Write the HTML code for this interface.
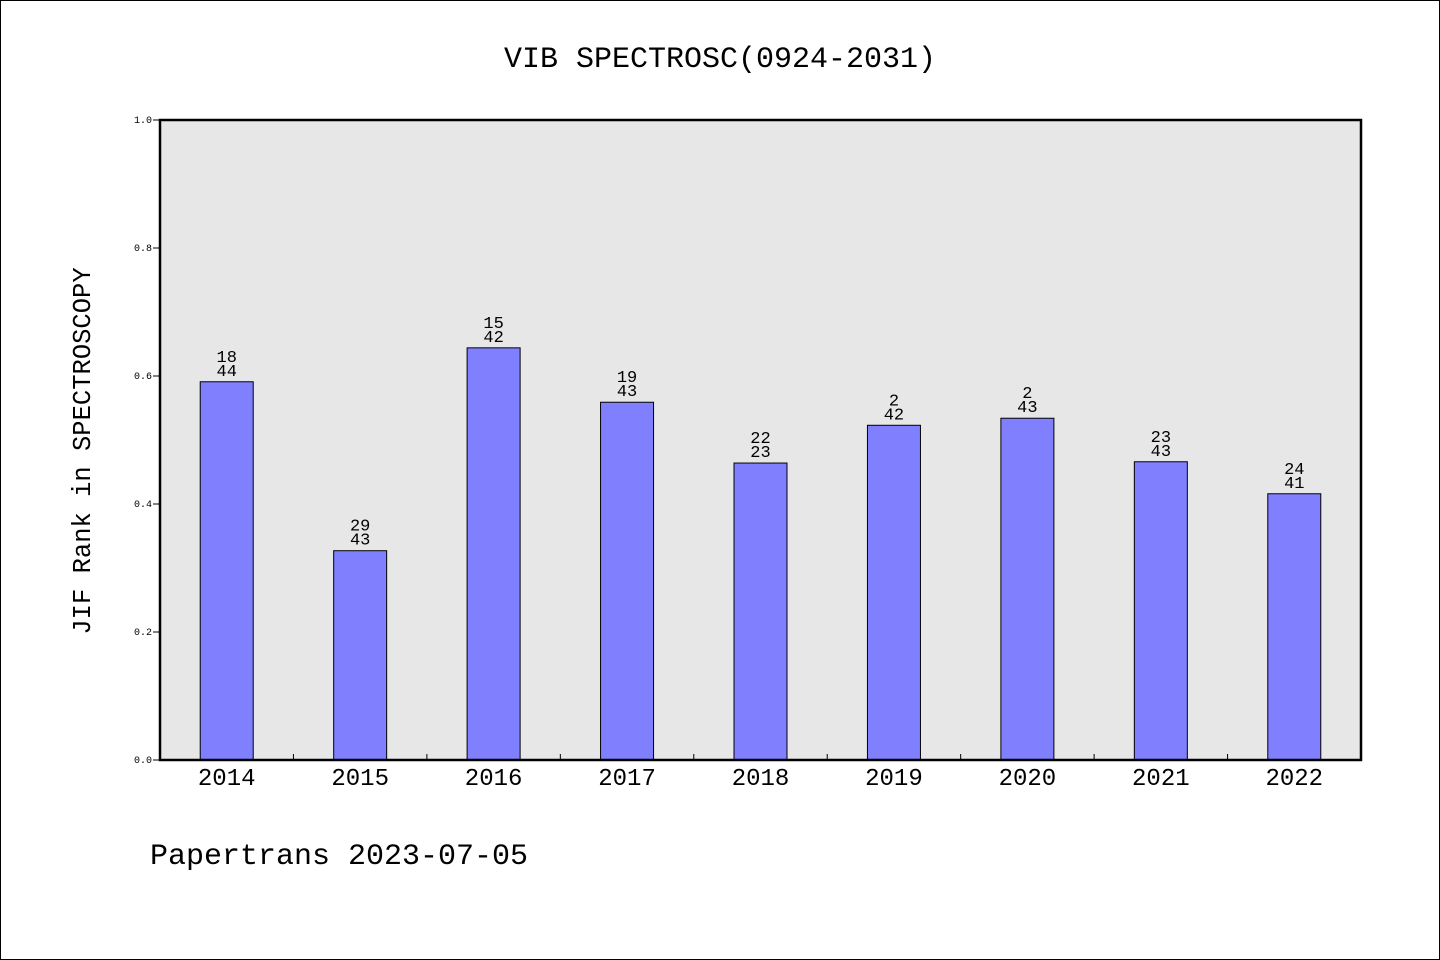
<!DOCTYPE html>
<html><head><meta charset="utf-8"><style>
html,body{margin:0;padding:0;background:#fff}
svg{display:block}
text{font-family:"Liberation Mono",monospace;fill:#000}
</style></head><body>
<svg width="1440" height="960" xmlns="http://www.w3.org/2000/svg">
<rect x="0.5" y="0.5" width="1439" height="959" fill="#fff" stroke="#000"/>
<text x="720" y="67" font-size="30" text-anchor="middle">VIB SPECTROSC(0924-2031)</text>
<rect x="160" y="120" width="1201" height="640" fill="#e7e7e7"/>
<g id="bars"></g>
<rect x="160" y="120" width="1201" height="640" fill="none" stroke="#000" stroke-width="2.5"/>
<g id="axes"></g>
<text transform="translate(90,451) rotate(-90)" font-size="25.5" text-anchor="middle">JIF Rank in SPECTROSCOPY</text>
<text x="150" y="864" font-size="30">Papertrans 2023-07-05</text>
</svg>
<script>
const categories=["2014","2015","2016","2017","2018","2019","2020","2021","2022"];
const values=[0.591,0.327,0.644,0.559,0.464,0.523,0.534,0.466,0.416];
const ranks=["18","29","15","19","22","2","2","23","24"];
const totals=["44","43","42","43","23","42","43","43","41"];
const yTicks=[0,0.2,0.4,0.6,0.8,1.0];
const NS="http://www.w3.org/2000/svg";
const X0=160,W=1201,Y0=760,H=640;
const step=W/categories.length;
const xc=i=>X0+step*(i+0.5);
const y=v=>Y0-v*H;
const bars=document.getElementById('bars'),axes=document.getElementById('axes');
function mk(tag,attrs,parent){const e=document.createElementNS(NS,tag);for(const k in attrs)e.setAttribute(k,attrs[k]);parent.appendChild(e);return e;}
categories.forEach((c,i)=>{
  const r=mk('rect',{x:xc(i)-26.5,y:y(values[i]),width:53,height:Y0-y(values[i]),fill:'#8080ff',stroke:'#000','stroke-width':1},bars);
  
  
  const t1=mk('text',{x:xc(i),y:y(values[i])-20,'font-size':17,'text-anchor':'middle'},bars);
  t1.textContent=ranks[i];
  
  
  const t2=mk('text',{x:xc(i),y:y(values[i])-6,'font-size':17,'text-anchor':'middle'},bars);
  t2.textContent=totals[i];
  
  
  const xl=mk('text',{x:xc(i),y:785,'font-size':24,'text-anchor':'middle'},axes);
  xl.textContent=c;
  
  
  if(i>0){const tk=mk('line',{x1:X0+step*i,x2:X0+step*i,y1:Y0,y2:Y0-6,stroke:'#000'},axes);
  
  }
});
yTicks.forEach(v=>{
  const tk=mk('line',{x1:X0-7,x2:X0,y1:y(v),y2:y(v),stroke:'#000'},axes);
  
  
  const t=mk('text',{x:X0-8,y:y(v)+3,'font-size':10,'text-anchor':'end'},axes);
  t.textContent=v.toFixed(1);
  
  
});
</script>
</body></html>
